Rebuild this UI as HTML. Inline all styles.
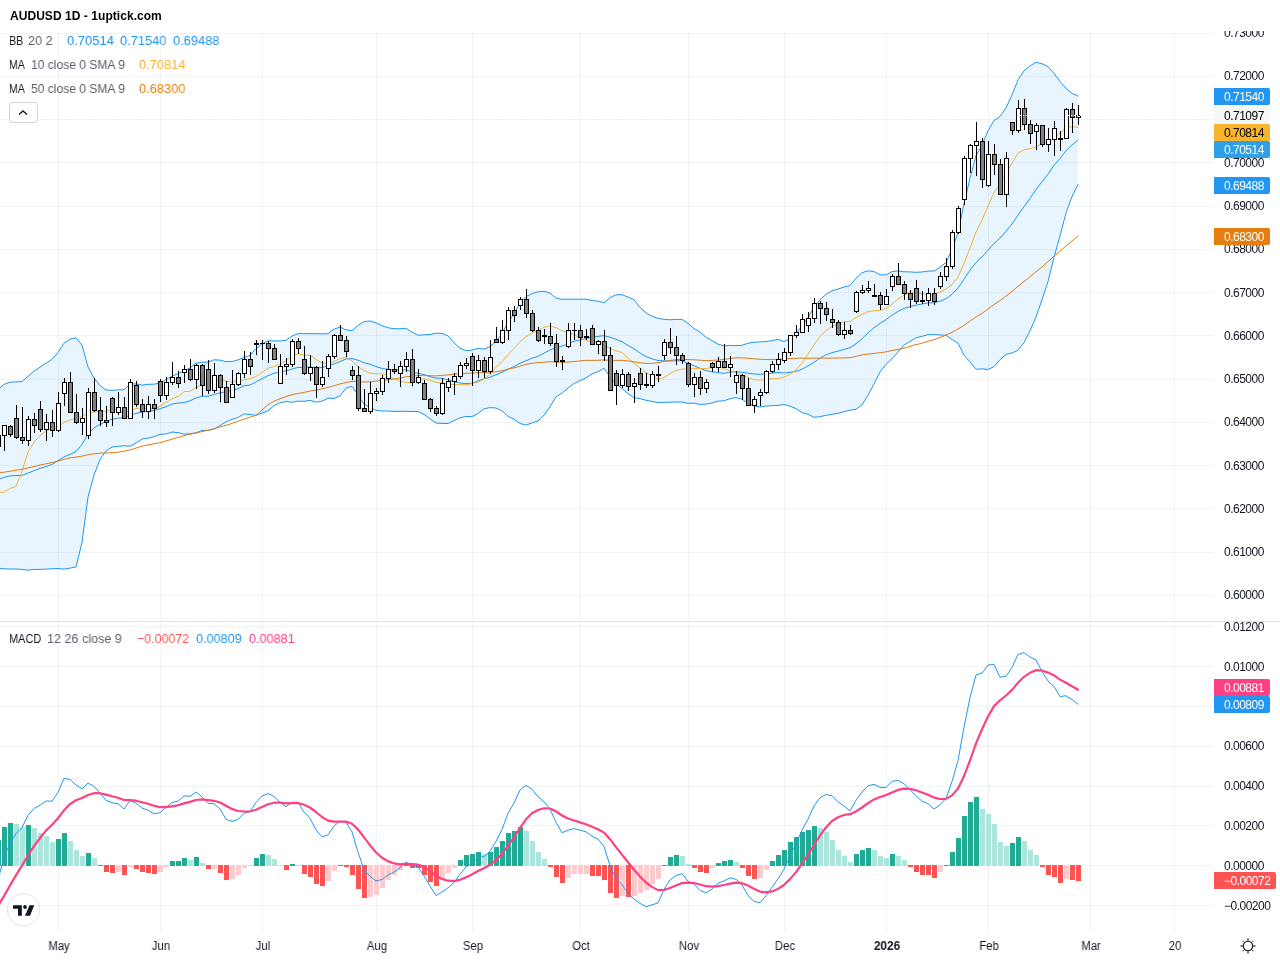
<!DOCTYPE html><html><head><meta charset="utf-8"><title>AUDUSD 1D</title><style>
html,body{margin:0;padding:0;background:#fff;}
body{width:1280px;height:960px;overflow:hidden;position:relative;font-family:"Liberation Sans",sans-serif;color:#131722;}
svg{position:absolute;left:0;top:0;}
.t{position:absolute;white-space:nowrap;}
.ax,.bd,.tm,.t,.p{will-change:transform;}
.ax{position:absolute;left:1224px;font-size:12px;line-height:14px;letter-spacing:-0.5px;color:#131722;}
.bd{position:absolute;left:1214px;width:56px;height:17px;border-radius:0 2px 2px 0;font-size:12px;line-height:19px;overflow:hidden;letter-spacing:-0.5px;color:#fff;padding-left:10px;box-sizing:border-box;}
.tm{position:absolute;top:939px;font-size:12px;line-height:14px;width:60px;text-align:center;color:#131722;}
.lg{position:absolute;left:9px;font-size:12px;line-height:16px;color:#5d606b;white-space:nowrap;}
.lg b{font-weight:normal;color:#131722;}
.p{position:absolute;font-size:13px;line-height:16px;white-space:nowrap;transform-origin:0 0;}
</style></head><body>
<svg width="1280" height="960" viewBox="0 0 1280 960">
<g shape-rendering="crispEdges" stroke="rgb(42,46,57)" stroke-opacity="0.06" stroke-width="1">
<line x1="58.5" y1="31" x2="58.5" y2="621" />
<line x1="58.5" y1="622" x2="58.5" y2="932" />
<line x1="160.5" y1="31" x2="160.5" y2="621" />
<line x1="160.5" y1="622" x2="160.5" y2="932" />
<line x1="262.5" y1="31" x2="262.5" y2="621" />
<line x1="262.5" y1="622" x2="262.5" y2="932" />
<line x1="376.5" y1="31" x2="376.5" y2="621" />
<line x1="376.5" y1="622" x2="376.5" y2="932" />
<line x1="472.5" y1="31" x2="472.5" y2="621" />
<line x1="472.5" y1="622" x2="472.5" y2="932" />
<line x1="580.5" y1="31" x2="580.5" y2="621" />
<line x1="580.5" y1="622" x2="580.5" y2="932" />
<line x1="688.5" y1="31" x2="688.5" y2="621" />
<line x1="688.5" y1="622" x2="688.5" y2="932" />
<line x1="784.5" y1="31" x2="784.5" y2="621" />
<line x1="784.5" y1="622" x2="784.5" y2="932" />
<line x1="886.5" y1="31" x2="886.5" y2="621" />
<line x1="886.5" y1="622" x2="886.5" y2="932" />
<line x1="988.5" y1="31" x2="988.5" y2="621" />
<line x1="988.5" y1="622" x2="988.5" y2="932" />
<line x1="1090.5" y1="31" x2="1090.5" y2="621" />
<line x1="1090.5" y1="622" x2="1090.5" y2="932" />
<line x1="1174.5" y1="31" x2="1174.5" y2="621" />
<line x1="1174.5" y1="622" x2="1174.5" y2="932" />
<line x1="0" y1="33.5" x2="1214" y2="33.5" />
<line x1="0" y1="76.5" x2="1214" y2="76.5" />
<line x1="0" y1="119.5" x2="1214" y2="119.5" />
<line x1="0" y1="162.5" x2="1214" y2="162.5" />
<line x1="0" y1="206.5" x2="1214" y2="206.5" />
<line x1="0" y1="249.5" x2="1214" y2="249.5" />
<line x1="0" y1="292.5" x2="1214" y2="292.5" />
<line x1="0" y1="335.5" x2="1214" y2="335.5" />
<line x1="0" y1="379.5" x2="1214" y2="379.5" />
<line x1="0" y1="422.5" x2="1214" y2="422.5" />
<line x1="0" y1="465.5" x2="1214" y2="465.5" />
<line x1="0" y1="508.5" x2="1214" y2="508.5" />
<line x1="0" y1="552.5" x2="1214" y2="552.5" />
<line x1="0" y1="595.5" x2="1214" y2="595.5" />
<line x1="0" y1="626.5" x2="1214" y2="626.5" />
<line x1="0" y1="666.5" x2="1214" y2="666.5" />
<line x1="0" y1="706.5" x2="1214" y2="706.5" />
<line x1="0" y1="746.5" x2="1214" y2="746.5" />
<line x1="0" y1="786.5" x2="1214" y2="786.5" />
<line x1="0" y1="825.5" x2="1214" y2="825.5" />
<line x1="0" y1="865.5" x2="1214" y2="865.5" />
<line x1="0" y1="905.5" x2="1214" y2="905.5" />
</g>
<rect x="0" y="621" width="1280" height="1" fill="#e0e3eb"/>
<polygon points="-2.0,389.4 4.0,384.4 10.0,382.2 16.0,381.9 22.0,381.5 28.0,376.2 34.0,371.2 40.0,367.2 46.0,363.1 52.0,359.4 58.0,352.5 64.0,343.1 70.0,339.0 76.0,337.8 82.0,345.0 88.0,366.9 94.0,378.1 100.0,385.6 106.0,390.0 112.0,390.4 118.0,389.9 124.0,389.7 130.0,384.2 136.0,383.9 142.0,385.1 148.0,384.3 154.0,384.2 160.0,383.1 166.0,379.5 172.0,376.1 178.0,373.7 184.0,370.8 190.0,367.9 196.0,363.1 202.0,362.2 208.0,362.1 214.0,359.8 220.0,360.1 226.0,361.6 232.0,361.5 238.0,359.9 244.0,357.5 250.0,355.4 256.0,348.6 262.0,343.9 268.0,340.8 274.0,340.9 280.0,340.9 286.0,340.3 292.0,336.0 298.0,333.6 304.0,333.7 310.0,333.6 316.0,333.7 322.0,333.9 328.0,333.6 334.0,329.2 340.0,327.1 346.0,329.8 352.0,330.7 358.0,325.4 364.0,321.6 370.0,320.9 376.0,322.9 382.0,325.7 388.0,327.8 394.0,328.7 400.0,328.7 406.0,328.3 412.0,332.2 418.0,335.2 424.0,334.9 430.0,334.5 436.0,333.2 442.0,333.4 448.0,335.8 454.0,342.8 460.0,348.2 466.0,350.7 472.0,350.1 478.0,348.3 484.0,349.1 490.0,346.7 496.0,341.4 502.0,333.8 508.0,322.2 514.0,313.8 520.0,302.8 526.0,296.7 532.0,293.5 538.0,291.8 544.0,291.2 550.0,293.1 556.0,298.1 562.0,299.3 568.0,299.2 574.0,299.2 580.0,299.2 586.0,299.2 592.0,300.5 598.0,301.1 604.0,302.8 610.0,297.7 616.0,294.7 622.0,294.7 628.0,297.0 634.0,299.8 640.0,307.4 646.0,312.9 652.0,316.2 658.0,318.4 664.0,319.3 670.0,319.8 676.0,319.4 682.0,319.4 688.0,323.4 694.0,328.4 700.0,332.2 706.0,337.2 712.0,340.6 718.0,344.2 724.0,345.9 730.0,345.4 736.0,345.6 742.0,345.3 748.0,343.2 754.0,342.2 760.0,341.9 766.0,341.5 772.0,340.7 778.0,339.4 784.0,341.5 790.0,338.7 796.0,334.0 802.0,325.7 808.0,317.7 814.0,307.2 820.0,299.7 826.0,294.4 832.0,290.8 838.0,289.1 844.0,287.0 850.0,285.5 856.0,278.2 862.0,272.7 868.0,270.8 874.0,271.6 880.0,274.8 886.0,274.9 892.0,271.6 898.0,270.9 904.0,271.8 910.0,271.9 916.0,272.3 922.0,272.0 928.0,271.1 934.0,271.0 940.0,267.4 946.0,262.3 952.0,249.2 958.0,232.9 964.0,203.5 970.0,178.2 976.0,155.6 982.0,145.0 988.0,130.8 994.0,120.5 1000.0,116.5 1006.0,107.9 1012.0,94.9 1018.0,79.9 1024.0,70.8 1030.0,65.9 1036.0,62.2 1042.0,63.7 1048.0,66.5 1054.0,73.5 1060.0,81.3 1066.0,88.3 1072.0,93.3 1078.0,96.0 1078.0,184.6 1072.0,196.6 1066.0,213.1 1060.0,235.8 1054.0,257.4 1048.0,281.6 1042.0,299.8 1036.0,316.9 1030.0,330.9 1024.0,342.5 1018.0,350.3 1012.0,352.9 1006.0,354.5 1000.0,359.7 994.0,366.7 988.0,369.5 982.0,368.8 976.0,369.3 970.0,361.8 964.0,355.2 958.0,343.1 952.0,339.4 946.0,335.3 940.0,334.9 934.0,334.6 928.0,334.7 922.0,336.3 916.0,337.8 910.0,341.4 904.0,345.1 898.0,352.0 892.0,358.8 886.0,364.3 880.0,371.9 874.0,383.9 868.0,395.1 862.0,404.9 856.0,409.2 850.0,410.2 844.0,411.7 838.0,413.4 832.0,414.3 826.0,415.3 820.0,416.7 814.0,417.3 808.0,414.2 802.0,412.7 796.0,408.6 790.0,406.1 784.0,404.5 778.0,405.5 772.0,405.7 766.0,406.0 760.0,407.0 754.0,405.8 748.0,403.3 742.0,399.2 736.0,397.6 730.0,398.7 724.0,400.8 718.0,401.2 712.0,403.0 706.0,404.1 700.0,404.4 694.0,403.1 688.0,403.4 682.0,402.0 676.0,402.0 670.0,402.2 664.0,402.4 658.0,402.7 652.0,401.4 646.0,400.3 640.0,398.6 634.0,397.7 628.0,393.7 622.0,388.4 616.0,384.0 610.0,376.7 604.0,368.3 598.0,371.7 592.0,374.0 586.0,377.9 580.0,380.7 574.0,383.5 568.0,388.1 562.0,393.1 556.0,396.6 550.0,406.8 544.0,415.3 538.0,421.0 532.0,423.0 526.0,425.0 520.0,423.5 514.0,419.2 508.0,416.4 502.0,410.8 496.0,408.0 490.0,407.6 484.0,408.8 478.0,413.6 472.0,416.6 466.0,416.5 460.0,417.8 454.0,420.6 448.0,423.5 442.0,423.4 436.0,423.1 430.0,418.8 424.0,414.4 418.0,411.5 412.0,411.5 406.0,411.3 400.0,411.4 394.0,411.4 388.0,411.0 382.0,411.0 376.0,410.3 370.0,407.5 364.0,404.1 358.0,395.1 352.0,386.3 346.0,388.1 340.0,395.9 334.0,398.5 328.0,398.2 322.0,401.2 316.0,402.1 310.0,400.4 304.0,401.3 298.0,401.1 292.0,402.3 286.0,401.6 280.0,402.7 274.0,405.6 268.0,410.7 262.0,413.2 256.0,415.3 250.0,414.5 244.0,414.0 238.0,417.5 232.0,419.3 226.0,422.0 220.0,425.5 214.0,429.2 208.0,430.4 202.0,430.4 196.0,432.9 190.0,433.8 184.0,434.2 178.0,432.6 172.0,432.1 166.0,434.0 160.0,434.4 154.0,436.7 148.0,438.2 142.0,439.0 136.0,443.1 130.0,446.2 124.0,445.8 118.0,446.4 112.0,447.0 106.0,451.0 100.0,459.4 94.0,475.0 88.0,497.0 82.0,542.5 76.0,567.0 70.0,568.1 64.0,569.1 58.0,568.5 52.0,568.8 46.0,569.1 40.0,569.4 34.0,569.4 28.0,570.2 22.0,569.4 16.0,569.0 10.0,569.0 4.0,568.8 -2.0,568.1" fill="#2196f3" fill-opacity="0.1"/>
<g fill="none" stroke-linejoin="round" stroke-linecap="round">
<polyline points="-2.0,479.5 4.0,477.4 10.0,475.9 16.0,475.5 22.0,475.4 28.0,473.1 34.0,470.6 40.0,468.4 46.0,466.5 52.0,464.4 58.0,460.6 64.0,456.9 70.0,454.4 76.0,451.5 82.0,444.4 88.0,434.0 94.0,427.8 100.0,424.4 106.0,421.6 112.0,419.4 118.0,418.1 124.0,417.8 130.0,415.2 136.0,413.5 142.0,412.0 148.0,411.3 154.0,410.4 160.0,408.7 166.0,406.7 172.0,404.1 178.0,403.1 184.0,402.5 190.0,400.8 196.0,398.0 202.0,396.3 208.0,396.2 214.0,394.5 220.0,392.8 226.0,391.8 232.0,390.4 238.0,388.7 244.0,385.8 250.0,385.0 256.0,381.9 262.0,378.6 268.0,375.7 274.0,373.3 280.0,371.8 286.0,370.9 292.0,369.1 298.0,367.4 304.0,367.5 310.0,367.0 316.0,367.9 322.0,367.5 328.0,365.9 334.0,363.9 340.0,361.5 346.0,359.0 352.0,358.5 358.0,360.2 364.0,362.8 370.0,364.2 376.0,366.6 382.0,368.4 388.0,369.4 394.0,370.0 400.0,370.0 406.0,369.8 412.0,371.9 418.0,373.3 424.0,374.6 430.0,376.7 436.0,378.1 442.0,378.4 448.0,379.7 454.0,381.7 460.0,383.0 466.0,383.6 472.0,383.3 478.0,380.9 484.0,378.9 490.0,377.2 496.0,374.7 502.0,372.3 508.0,369.3 514.0,366.5 520.0,363.2 526.0,360.8 532.0,358.2 538.0,356.4 544.0,353.2 550.0,350.0 556.0,347.3 562.0,346.2 568.0,343.6 574.0,341.3 580.0,339.9 586.0,338.6 592.0,337.3 598.0,336.4 604.0,335.6 610.0,337.2 616.0,339.3 622.0,341.6 628.0,345.3 634.0,348.8 640.0,353.0 646.0,356.6 652.0,358.8 658.0,360.5 664.0,360.8 670.0,361.0 676.0,360.7 682.0,360.7 688.0,363.4 694.0,365.8 700.0,368.3 706.0,370.6 712.0,371.8 718.0,372.7 724.0,373.3 730.0,372.1 736.0,371.6 742.0,372.3 748.0,373.2 754.0,374.0 760.0,374.4 766.0,373.7 772.0,373.2 778.0,372.5 784.0,373.0 790.0,372.4 796.0,371.3 802.0,369.2 808.0,365.9 814.0,362.2 820.0,358.2 826.0,354.8 832.0,352.6 838.0,351.2 844.0,349.4 850.0,347.8 856.0,343.7 862.0,338.8 868.0,332.9 874.0,327.8 880.0,323.4 886.0,319.6 892.0,315.2 898.0,311.4 904.0,308.5 910.0,306.6 916.0,305.1 922.0,304.1 928.0,302.9 934.0,302.8 940.0,301.2 946.0,298.8 952.0,294.3 958.0,288.0 964.0,279.4 970.0,270.0 976.0,262.4 982.0,256.9 988.0,250.2 994.0,243.6 1000.0,238.1 1006.0,231.2 1012.0,223.9 1018.0,215.1 1024.0,206.7 1030.0,198.4 1036.0,189.6 1042.0,181.8 1048.0,174.1 1054.0,165.4 1060.0,158.5 1066.0,150.7 1072.0,144.9 1078.0,140.3" stroke="#2196f3" stroke-width="1"/>
<polyline points="-2.0,389.4 4.0,384.4 10.0,382.2 16.0,381.9 22.0,381.5 28.0,376.2 34.0,371.2 40.0,367.2 46.0,363.1 52.0,359.4 58.0,352.5 64.0,343.1 70.0,339.0 76.0,337.8 82.0,345.0 88.0,366.9 94.0,378.1 100.0,385.6 106.0,390.0 112.0,390.4 118.0,389.9 124.0,389.7 130.0,384.2 136.0,383.9 142.0,385.1 148.0,384.3 154.0,384.2 160.0,383.1 166.0,379.5 172.0,376.1 178.0,373.7 184.0,370.8 190.0,367.9 196.0,363.1 202.0,362.2 208.0,362.1 214.0,359.8 220.0,360.1 226.0,361.6 232.0,361.5 238.0,359.9 244.0,357.5 250.0,355.4 256.0,348.6 262.0,343.9 268.0,340.8 274.0,340.9 280.0,340.9 286.0,340.3 292.0,336.0 298.0,333.6 304.0,333.7 310.0,333.6 316.0,333.7 322.0,333.9 328.0,333.6 334.0,329.2 340.0,327.1 346.0,329.8 352.0,330.7 358.0,325.4 364.0,321.6 370.0,320.9 376.0,322.9 382.0,325.7 388.0,327.8 394.0,328.7 400.0,328.7 406.0,328.3 412.0,332.2 418.0,335.2 424.0,334.9 430.0,334.5 436.0,333.2 442.0,333.4 448.0,335.8 454.0,342.8 460.0,348.2 466.0,350.7 472.0,350.1 478.0,348.3 484.0,349.1 490.0,346.7 496.0,341.4 502.0,333.8 508.0,322.2 514.0,313.8 520.0,302.8 526.0,296.7 532.0,293.5 538.0,291.8 544.0,291.2 550.0,293.1 556.0,298.1 562.0,299.3 568.0,299.2 574.0,299.2 580.0,299.2 586.0,299.2 592.0,300.5 598.0,301.1 604.0,302.8 610.0,297.7 616.0,294.7 622.0,294.7 628.0,297.0 634.0,299.8 640.0,307.4 646.0,312.9 652.0,316.2 658.0,318.4 664.0,319.3 670.0,319.8 676.0,319.4 682.0,319.4 688.0,323.4 694.0,328.4 700.0,332.2 706.0,337.2 712.0,340.6 718.0,344.2 724.0,345.9 730.0,345.4 736.0,345.6 742.0,345.3 748.0,343.2 754.0,342.2 760.0,341.9 766.0,341.5 772.0,340.7 778.0,339.4 784.0,341.5 790.0,338.7 796.0,334.0 802.0,325.7 808.0,317.7 814.0,307.2 820.0,299.7 826.0,294.4 832.0,290.8 838.0,289.1 844.0,287.0 850.0,285.5 856.0,278.2 862.0,272.7 868.0,270.8 874.0,271.6 880.0,274.8 886.0,274.9 892.0,271.6 898.0,270.9 904.0,271.8 910.0,271.9 916.0,272.3 922.0,272.0 928.0,271.1 934.0,271.0 940.0,267.4 946.0,262.3 952.0,249.2 958.0,232.9 964.0,203.5 970.0,178.2 976.0,155.6 982.0,145.0 988.0,130.8 994.0,120.5 1000.0,116.5 1006.0,107.9 1012.0,94.9 1018.0,79.9 1024.0,70.8 1030.0,65.9 1036.0,62.2 1042.0,63.7 1048.0,66.5 1054.0,73.5 1060.0,81.3 1066.0,88.3 1072.0,93.3 1078.0,96.0" stroke="#2196f3" stroke-width="1"/>
<polyline points="-2.0,568.1 4.0,568.8 10.0,569.0 16.0,569.0 22.0,569.4 28.0,570.2 34.0,569.4 40.0,569.4 46.0,569.1 52.0,568.8 58.0,568.5 64.0,569.1 70.0,568.1 76.0,567.0 82.0,542.5 88.0,497.0 94.0,475.0 100.0,459.4 106.0,451.0 112.0,447.0 118.0,446.4 124.0,445.8 130.0,446.2 136.0,443.1 142.0,439.0 148.0,438.2 154.0,436.7 160.0,434.4 166.0,434.0 172.0,432.1 178.0,432.6 184.0,434.2 190.0,433.8 196.0,432.9 202.0,430.4 208.0,430.4 214.0,429.2 220.0,425.5 226.0,422.0 232.0,419.3 238.0,417.5 244.0,414.0 250.0,414.5 256.0,415.3 262.0,413.2 268.0,410.7 274.0,405.6 280.0,402.7 286.0,401.6 292.0,402.3 298.0,401.1 304.0,401.3 310.0,400.4 316.0,402.1 322.0,401.2 328.0,398.2 334.0,398.5 340.0,395.9 346.0,388.1 352.0,386.3 358.0,395.1 364.0,404.1 370.0,407.5 376.0,410.3 382.0,411.0 388.0,411.0 394.0,411.4 400.0,411.4 406.0,411.3 412.0,411.5 418.0,411.5 424.0,414.4 430.0,418.8 436.0,423.1 442.0,423.4 448.0,423.5 454.0,420.6 460.0,417.8 466.0,416.5 472.0,416.6 478.0,413.6 484.0,408.8 490.0,407.6 496.0,408.0 502.0,410.8 508.0,416.4 514.0,419.2 520.0,423.5 526.0,425.0 532.0,423.0 538.0,421.0 544.0,415.3 550.0,406.8 556.0,396.6 562.0,393.1 568.0,388.1 574.0,383.5 580.0,380.7 586.0,377.9 592.0,374.0 598.0,371.7 604.0,368.3 610.0,376.7 616.0,384.0 622.0,388.4 628.0,393.7 634.0,397.7 640.0,398.6 646.0,400.3 652.0,401.4 658.0,402.7 664.0,402.4 670.0,402.2 676.0,402.0 682.0,402.0 688.0,403.4 694.0,403.1 700.0,404.4 706.0,404.1 712.0,403.0 718.0,401.2 724.0,400.8 730.0,398.7 736.0,397.6 742.0,399.2 748.0,403.3 754.0,405.8 760.0,407.0 766.0,406.0 772.0,405.7 778.0,405.5 784.0,404.5 790.0,406.1 796.0,408.6 802.0,412.7 808.0,414.2 814.0,417.3 820.0,416.7 826.0,415.3 832.0,414.3 838.0,413.4 844.0,411.7 850.0,410.2 856.0,409.2 862.0,404.9 868.0,395.1 874.0,383.9 880.0,371.9 886.0,364.3 892.0,358.8 898.0,352.0 904.0,345.1 910.0,341.4 916.0,337.8 922.0,336.3 928.0,334.7 934.0,334.6 940.0,334.9 946.0,335.3 952.0,339.4 958.0,343.1 964.0,355.2 970.0,361.8 976.0,369.3 982.0,368.8 988.0,369.5 994.0,366.7 1000.0,359.7 1006.0,354.5 1012.0,352.9 1018.0,350.3 1024.0,342.5 1030.0,330.9 1036.0,316.9 1042.0,299.8 1048.0,281.6 1054.0,257.4 1060.0,235.8 1066.0,213.1 1072.0,196.6 1078.0,184.6" stroke="#2196f3" stroke-width="1"/>
<polyline points="-2.0,493.0 4.0,492.0 10.0,488.5 16.0,486.4 22.0,471.2 28.0,452.2 34.0,442.2 40.0,435.6 46.0,431.1 52.0,428.3 58.0,426.5 64.0,422.2 70.0,420.0 76.0,418.4 82.0,416.2 88.0,413.5 94.0,412.1 100.0,411.2 106.0,411.2 112.0,409.4 118.0,409.8 124.0,413.4 130.0,410.4 136.0,408.6 142.0,407.8 148.0,409.0 154.0,408.8 160.0,406.3 166.0,402.3 172.0,398.9 178.0,396.5 184.0,391.6 190.0,391.3 196.0,387.4 202.0,384.8 208.0,383.4 214.0,380.1 220.0,379.3 226.0,381.3 232.0,382.0 238.0,381.0 244.0,379.9 250.0,378.6 256.0,376.5 262.0,372.3 268.0,368.1 274.0,366.5 280.0,364.4 286.0,360.6 292.0,356.3 298.0,353.8 304.0,355.1 310.0,355.3 316.0,359.4 322.0,362.8 328.0,363.6 334.0,361.3 340.0,358.6 346.0,357.3 352.0,360.7 358.0,366.7 364.0,370.5 370.0,373.1 376.0,373.8 382.0,373.9 388.0,375.2 394.0,378.8 400.0,381.4 406.0,382.3 412.0,383.0 418.0,379.9 424.0,378.7 430.0,380.2 436.0,382.4 442.0,382.9 448.0,384.1 454.0,384.6 460.0,384.5 466.0,384.9 472.0,383.7 478.0,382.0 484.0,379.2 490.0,374.1 496.0,367.0 502.0,361.7 508.0,354.6 514.0,348.4 520.0,341.8 526.0,336.8 532.0,332.8 538.0,330.8 544.0,327.3 550.0,325.8 556.0,327.7 562.0,330.7 568.0,332.7 574.0,334.3 580.0,338.0 586.0,340.4 592.0,341.8 598.0,342.0 604.0,343.9 610.0,348.6 616.0,351.0 622.0,352.4 628.0,357.9 634.0,363.3 640.0,368.0 646.0,372.8 652.0,375.8 658.0,379.1 664.0,377.8 670.0,373.5 676.0,370.5 682.0,369.1 688.0,368.9 694.0,368.3 700.0,368.7 706.0,368.4 712.0,367.7 718.0,366.4 724.0,368.9 730.0,370.6 736.0,372.6 742.0,375.4 748.0,377.5 754.0,379.7 760.0,380.2 766.0,379.0 772.0,378.7 778.0,378.6 784.0,377.1 790.0,374.2 796.0,369.9 802.0,363.0 808.0,354.3 814.0,344.7 820.0,336.3 826.0,330.6 832.0,326.4 838.0,323.9 844.0,321.7 850.0,321.5 856.0,317.4 862.0,314.5 868.0,311.6 874.0,310.8 880.0,310.4 886.0,308.6 892.0,304.0 898.0,299.0 904.0,295.2 910.0,291.8 916.0,292.7 922.0,293.7 928.0,294.2 934.0,294.8 940.0,292.0 946.0,289.0 952.0,284.6 958.0,277.0 964.0,263.5 970.0,248.1 976.0,232.2 982.0,220.0 988.0,206.1 994.0,192.4 1000.0,184.2 1006.0,173.4 1012.0,163.2 1018.0,153.2 1024.0,149.8 1030.0,148.6 1036.0,147.0 1042.0,143.5 1048.0,142.0 1054.0,138.4 1060.0,132.9 1066.0,128.0 1072.0,126.6 1078.0,127.3" stroke="#f5b331" stroke-width="1"/>
<polyline points="-2.0,472.9 4.0,472.2 10.0,471.2 16.0,470.2 22.0,469.4 28.0,467.9 34.0,466.6 40.0,465.0 46.0,463.8 52.0,462.5 58.0,461.1 64.0,459.4 70.0,457.9 76.0,457.1 82.0,456.1 88.0,454.7 94.0,453.8 100.0,453.2 106.0,453.0 112.0,452.7 118.0,452.2 124.0,451.2 130.0,449.9 136.0,448.1 142.0,446.1 148.0,444.9 154.0,443.8 160.0,442.8 166.0,440.9 172.0,439.2 178.0,437.4 184.0,435.6 190.0,434.2 196.0,432.9 202.0,431.6 208.0,430.3 214.0,428.8 220.0,426.9 226.0,425.3 232.0,423.4 238.0,421.2 244.0,419.1 250.0,417.2 256.0,415.3 262.0,410.0 268.0,404.7 274.0,401.2 280.0,398.8 286.0,396.6 292.0,394.7 298.0,393.5 304.0,392.4 310.0,391.1 316.0,390.1 322.0,388.8 328.0,387.5 334.0,385.7 340.0,384.0 346.0,382.5 352.0,381.4 358.0,381.5 364.0,382.1 370.0,381.7 376.0,381.1 382.0,380.3 388.0,379.9 394.0,379.1 400.0,378.0 406.0,376.8 412.0,376.2 418.0,375.6 424.0,375.2 430.0,375.7 436.0,375.9 442.0,375.3 448.0,374.9 454.0,374.3 460.0,373.7 466.0,373.3 472.0,373.1 478.0,372.7 484.0,372.7 490.0,372.3 496.0,371.8 502.0,370.7 508.0,369.1 514.0,367.9 520.0,366.2 526.0,364.4 532.0,363.3 538.0,362.6 544.0,362.2 550.0,361.7 556.0,362.1 562.0,362.4 568.0,362.1 574.0,361.5 580.0,360.9 586.0,360.3 592.0,360.4 598.0,360.3 604.0,359.9 610.0,360.4 616.0,360.4 622.0,360.3 628.0,360.9 634.0,361.9 640.0,362.8 646.0,363.4 652.0,363.4 658.0,362.7 664.0,361.4 670.0,360.4 676.0,359.7 682.0,359.3 688.0,359.6 694.0,359.8 700.0,360.2 706.0,360.7 712.0,360.4 718.0,360.0 724.0,359.4 730.0,358.5 736.0,357.8 742.0,357.9 748.0,358.3 754.0,358.8 760.0,359.3 766.0,359.5 772.0,359.4 778.0,359.4 784.0,359.0 790.0,358.5 796.0,358.3 802.0,358.1 808.0,358.3 814.0,358.1 820.0,358.2 826.0,358.2 832.0,358.1 838.0,358.0 844.0,357.9 850.0,357.7 856.0,356.3 862.0,354.9 868.0,354.1 874.0,353.4 880.0,352.7 886.0,351.9 892.0,350.5 898.0,349.4 904.0,348.1 910.0,346.3 916.0,344.6 922.0,343.2 928.0,341.3 934.0,339.7 940.0,337.5 946.0,335.1 952.0,332.3 958.0,329.0 964.0,325.3 970.0,321.2 976.0,317.0 982.0,313.4 988.0,308.8 994.0,304.5 1000.0,300.6 1006.0,296.1 1012.0,291.4 1018.0,286.3 1024.0,281.5 1030.0,276.8 1036.0,271.8 1042.0,267.0 1048.0,261.6 1054.0,256.2 1060.0,251.2 1066.0,245.9 1072.0,241.0 1078.0,236.1" stroke="#e07b12" stroke-width="1"/>
</g>
<g shape-rendering="crispEdges">
<rect x="-4" y="435" width="5" height="12" fill="#000"/>
<rect x="4" y="425" width="1" height="26" fill="#000"/>
<rect x="2" y="425" width="5" height="11" fill="#000"/>
<rect x="3" y="426" width="3" height="9" fill="#fff"/>
<rect x="10" y="425" width="1" height="12" fill="#000"/>
<rect x="8" y="426" width="5" height="9" fill="#000"/>
<rect x="9" y="427" width="3" height="7" fill="#808080"/>
<rect x="16" y="405" width="1" height="34" fill="#000"/>
<rect x="14" y="418" width="5" height="20" fill="#000"/>
<rect x="15" y="419" width="3" height="18" fill="#808080"/>
<rect x="22" y="407" width="1" height="37" fill="#000"/>
<rect x="20" y="437" width="5" height="4" fill="#000"/>
<rect x="21" y="438" width="3" height="2" fill="#808080"/>
<rect x="28" y="416" width="1" height="30" fill="#000"/>
<rect x="26" y="419" width="5" height="22" fill="#000"/>
<rect x="27" y="420" width="3" height="20" fill="#fff"/>
<rect x="34" y="413" width="1" height="20" fill="#000"/>
<rect x="32" y="419" width="5" height="7" fill="#000"/>
<rect x="33" y="420" width="3" height="5" fill="#808080"/>
<rect x="40" y="401" width="1" height="31" fill="#000"/>
<rect x="38" y="409" width="5" height="21" fill="#000"/>
<rect x="39" y="410" width="3" height="19" fill="#808080"/>
<rect x="46" y="414" width="1" height="27" fill="#000"/>
<rect x="44" y="422" width="5" height="8" fill="#000"/>
<rect x="45" y="423" width="3" height="6" fill="#fff"/>
<rect x="52" y="410" width="1" height="27" fill="#000"/>
<rect x="50" y="422" width="5" height="9" fill="#000"/>
<rect x="51" y="423" width="3" height="7" fill="#808080"/>
<rect x="58" y="392" width="1" height="40" fill="#000"/>
<rect x="56" y="403" width="5" height="28" fill="#000"/>
<rect x="57" y="404" width="3" height="26" fill="#fff"/>
<rect x="64" y="378" width="1" height="28" fill="#000"/>
<rect x="62" y="382" width="5" height="12" fill="#000"/>
<rect x="63" y="383" width="3" height="10" fill="#fff"/>
<rect x="70" y="372" width="1" height="41" fill="#000"/>
<rect x="68" y="382" width="5" height="31" fill="#000"/>
<rect x="69" y="383" width="3" height="29" fill="#808080"/>
<rect x="76" y="394" width="1" height="30" fill="#000"/>
<rect x="74" y="412" width="5" height="11" fill="#000"/>
<rect x="75" y="413" width="3" height="9" fill="#808080"/>
<rect x="82" y="408" width="1" height="27" fill="#000"/>
<rect x="80" y="418" width="5" height="5" fill="#000"/>
<rect x="81" y="419" width="3" height="3" fill="#fff"/>
<rect x="88" y="388" width="1" height="51" fill="#000"/>
<rect x="86" y="392" width="5" height="44" fill="#000"/>
<rect x="87" y="393" width="3" height="42" fill="#fff"/>
<rect x="94" y="378" width="1" height="34" fill="#000"/>
<rect x="92" y="392" width="5" height="19" fill="#000"/>
<rect x="93" y="393" width="3" height="17" fill="#808080"/>
<rect x="100" y="397" width="1" height="29" fill="#000"/>
<rect x="98" y="410" width="5" height="11" fill="#000"/>
<rect x="99" y="411" width="3" height="9" fill="#808080"/>
<rect x="106" y="406" width="1" height="21" fill="#000"/>
<rect x="104" y="420" width="5" height="3" fill="#000"/>
<rect x="105" y="421" width="3" height="1" fill="#808080"/>
<rect x="112" y="397" width="1" height="29" fill="#000"/>
<rect x="110" y="398" width="5" height="15" fill="#000"/>
<rect x="111" y="399" width="3" height="13" fill="#808080"/>
<rect x="118" y="392" width="1" height="23" fill="#000"/>
<rect x="116" y="407" width="5" height="6" fill="#000"/>
<rect x="117" y="408" width="3" height="4" fill="#fff"/>
<rect x="124" y="397" width="1" height="22" fill="#000"/>
<rect x="122" y="407" width="5" height="12" fill="#000"/>
<rect x="123" y="408" width="3" height="10" fill="#808080"/>
<rect x="130" y="379" width="1" height="40" fill="#000"/>
<rect x="128" y="382" width="5" height="37" fill="#000"/>
<rect x="129" y="383" width="3" height="35" fill="#fff"/>
<rect x="136" y="381" width="1" height="26" fill="#000"/>
<rect x="134" y="385" width="5" height="20" fill="#000"/>
<rect x="135" y="386" width="3" height="18" fill="#808080"/>
<rect x="142" y="399" width="1" height="19" fill="#000"/>
<rect x="140" y="404" width="5" height="8" fill="#000"/>
<rect x="141" y="405" width="3" height="6" fill="#808080"/>
<rect x="148" y="396" width="1" height="23" fill="#000"/>
<rect x="146" y="404" width="5" height="8" fill="#000"/>
<rect x="147" y="405" width="3" height="6" fill="#fff"/>
<rect x="154" y="399" width="1" height="20" fill="#000"/>
<rect x="152" y="404" width="5" height="5" fill="#000"/>
<rect x="153" y="405" width="3" height="3" fill="#808080"/>
<rect x="160" y="379" width="1" height="23" fill="#000"/>
<rect x="158" y="381" width="5" height="15" fill="#000"/>
<rect x="159" y="382" width="3" height="13" fill="#808080"/>
<rect x="166" y="377" width="1" height="23" fill="#000"/>
<rect x="164" y="382" width="5" height="14" fill="#000"/>
<rect x="165" y="383" width="3" height="12" fill="#fff"/>
<rect x="172" y="362" width="1" height="23" fill="#000"/>
<rect x="170" y="377" width="5" height="6" fill="#000"/>
<rect x="171" y="378" width="3" height="4" fill="#fff"/>
<rect x="178" y="371" width="1" height="17" fill="#000"/>
<rect x="176" y="377" width="5" height="7" fill="#000"/>
<rect x="177" y="378" width="3" height="5" fill="#808080"/>
<rect x="184" y="365" width="1" height="18" fill="#000"/>
<rect x="182" y="369" width="5" height="4" fill="#000"/>
<rect x="183" y="370" width="3" height="2" fill="#fff"/>
<rect x="190" y="359" width="1" height="22" fill="#000"/>
<rect x="188" y="369" width="5" height="11" fill="#000"/>
<rect x="189" y="370" width="3" height="9" fill="#808080"/>
<rect x="196" y="364" width="1" height="25" fill="#000"/>
<rect x="194" y="365" width="5" height="15" fill="#000"/>
<rect x="195" y="366" width="3" height="13" fill="#fff"/>
<rect x="202" y="364" width="1" height="32" fill="#000"/>
<rect x="200" y="365" width="5" height="21" fill="#000"/>
<rect x="201" y="366" width="3" height="19" fill="#808080"/>
<rect x="208" y="360" width="1" height="34" fill="#000"/>
<rect x="206" y="369" width="5" height="22" fill="#000"/>
<rect x="207" y="370" width="3" height="20" fill="#808080"/>
<rect x="214" y="363" width="1" height="30" fill="#000"/>
<rect x="212" y="375" width="5" height="16" fill="#000"/>
<rect x="213" y="376" width="3" height="14" fill="#fff"/>
<rect x="220" y="374" width="1" height="28" fill="#000"/>
<rect x="218" y="375" width="5" height="13" fill="#000"/>
<rect x="219" y="376" width="3" height="11" fill="#808080"/>
<rect x="226" y="381" width="1" height="22" fill="#000"/>
<rect x="224" y="387" width="5" height="16" fill="#000"/>
<rect x="225" y="388" width="3" height="14" fill="#808080"/>
<rect x="232" y="370" width="1" height="28" fill="#000"/>
<rect x="230" y="384" width="5" height="14" fill="#000"/>
<rect x="231" y="385" width="3" height="12" fill="#fff"/>
<rect x="238" y="372" width="1" height="14" fill="#000"/>
<rect x="236" y="373" width="5" height="12" fill="#000"/>
<rect x="237" y="374" width="3" height="10" fill="#fff"/>
<rect x="244" y="351" width="1" height="27" fill="#000"/>
<rect x="242" y="359" width="5" height="15" fill="#000"/>
<rect x="243" y="360" width="3" height="13" fill="#fff"/>
<rect x="250" y="352" width="1" height="23" fill="#000"/>
<rect x="248" y="359" width="5" height="8" fill="#000"/>
<rect x="249" y="360" width="3" height="6" fill="#808080"/>
<rect x="256" y="340" width="1" height="15" fill="#000"/>
<rect x="254" y="343" width="5" height="2" fill="#000"/>
<rect x="262" y="340" width="1" height="20" fill="#000"/>
<rect x="260" y="343" width="5" height="1" fill="#000"/>
<rect x="268" y="341" width="1" height="22" fill="#000"/>
<rect x="266" y="343" width="5" height="6" fill="#000"/>
<rect x="267" y="344" width="3" height="4" fill="#808080"/>
<rect x="274" y="344" width="1" height="16" fill="#000"/>
<rect x="272" y="348" width="5" height="12" fill="#000"/>
<rect x="273" y="349" width="3" height="10" fill="#808080"/>
<rect x="280" y="354" width="1" height="30" fill="#000"/>
<rect x="278" y="366" width="5" height="18" fill="#000"/>
<rect x="279" y="367" width="3" height="16" fill="#fff"/>
<rect x="286" y="358" width="1" height="17" fill="#000"/>
<rect x="284" y="364" width="5" height="3" fill="#000"/>
<rect x="285" y="365" width="3" height="1" fill="#fff"/>
<rect x="292" y="339" width="1" height="28" fill="#000"/>
<rect x="290" y="341" width="5" height="24" fill="#000"/>
<rect x="291" y="342" width="3" height="22" fill="#fff"/>
<rect x="298" y="338" width="1" height="16" fill="#000"/>
<rect x="296" y="341" width="5" height="8" fill="#000"/>
<rect x="297" y="342" width="3" height="6" fill="#808080"/>
<rect x="304" y="346" width="1" height="29" fill="#000"/>
<rect x="302" y="359" width="5" height="15" fill="#000"/>
<rect x="303" y="360" width="3" height="13" fill="#808080"/>
<rect x="310" y="355" width="1" height="26" fill="#000"/>
<rect x="308" y="367" width="5" height="7" fill="#000"/>
<rect x="309" y="368" width="3" height="5" fill="#fff"/>
<rect x="316" y="366" width="1" height="32" fill="#000"/>
<rect x="314" y="367" width="5" height="18" fill="#000"/>
<rect x="315" y="368" width="3" height="16" fill="#808080"/>
<rect x="322" y="361" width="1" height="26" fill="#000"/>
<rect x="320" y="377" width="5" height="8" fill="#000"/>
<rect x="321" y="378" width="3" height="6" fill="#fff"/>
<rect x="328" y="354" width="1" height="23" fill="#000"/>
<rect x="326" y="356" width="5" height="13" fill="#000"/>
<rect x="327" y="357" width="3" height="11" fill="#fff"/>
<rect x="334" y="334" width="1" height="25" fill="#000"/>
<rect x="332" y="335" width="5" height="22" fill="#000"/>
<rect x="333" y="336" width="3" height="20" fill="#fff"/>
<rect x="340" y="325" width="1" height="16" fill="#000"/>
<rect x="338" y="335" width="5" height="6" fill="#000"/>
<rect x="339" y="336" width="3" height="4" fill="#808080"/>
<rect x="346" y="336" width="1" height="21" fill="#000"/>
<rect x="344" y="340" width="5" height="12" fill="#000"/>
<rect x="345" y="341" width="3" height="10" fill="#808080"/>
<rect x="352" y="366" width="1" height="14" fill="#000"/>
<rect x="350" y="370" width="5" height="6" fill="#000"/>
<rect x="351" y="371" width="3" height="4" fill="#808080"/>
<rect x="358" y="366" width="1" height="45" fill="#000"/>
<rect x="356" y="375" width="5" height="34" fill="#000"/>
<rect x="357" y="376" width="3" height="32" fill="#808080"/>
<rect x="364" y="389" width="1" height="23" fill="#000"/>
<rect x="362" y="408" width="5" height="4" fill="#000"/>
<rect x="363" y="409" width="3" height="2" fill="#808080"/>
<rect x="370" y="382" width="1" height="32" fill="#000"/>
<rect x="368" y="393" width="5" height="19" fill="#000"/>
<rect x="369" y="394" width="3" height="17" fill="#fff"/>
<rect x="376" y="388" width="1" height="13" fill="#000"/>
<rect x="374" y="391" width="5" height="3" fill="#000"/>
<rect x="375" y="392" width="3" height="1" fill="#fff"/>
<rect x="382" y="375" width="1" height="20" fill="#000"/>
<rect x="380" y="378" width="5" height="14" fill="#000"/>
<rect x="381" y="379" width="3" height="12" fill="#fff"/>
<rect x="388" y="361" width="1" height="22" fill="#000"/>
<rect x="386" y="369" width="5" height="10" fill="#000"/>
<rect x="387" y="370" width="3" height="8" fill="#fff"/>
<rect x="394" y="364" width="1" height="10" fill="#000"/>
<rect x="392" y="369" width="5" height="3" fill="#000"/>
<rect x="393" y="370" width="3" height="1" fill="#808080"/>
<rect x="400" y="361" width="1" height="26" fill="#000"/>
<rect x="398" y="366" width="5" height="8" fill="#000"/>
<rect x="399" y="367" width="3" height="6" fill="#fff"/>
<rect x="406" y="352" width="1" height="20" fill="#000"/>
<rect x="404" y="359" width="5" height="8" fill="#000"/>
<rect x="405" y="360" width="3" height="6" fill="#fff"/>
<rect x="412" y="349" width="1" height="37" fill="#000"/>
<rect x="410" y="359" width="5" height="24" fill="#000"/>
<rect x="411" y="360" width="3" height="22" fill="#808080"/>
<rect x="418" y="369" width="1" height="15" fill="#000"/>
<rect x="416" y="377" width="5" height="6" fill="#000"/>
<rect x="417" y="378" width="3" height="4" fill="#fff"/>
<rect x="424" y="380" width="1" height="20" fill="#000"/>
<rect x="422" y="383" width="5" height="17" fill="#000"/>
<rect x="423" y="384" width="3" height="15" fill="#808080"/>
<rect x="430" y="398" width="1" height="14" fill="#000"/>
<rect x="428" y="399" width="5" height="10" fill="#000"/>
<rect x="429" y="400" width="3" height="8" fill="#808080"/>
<rect x="436" y="406" width="1" height="10" fill="#000"/>
<rect x="434" y="408" width="5" height="6" fill="#000"/>
<rect x="435" y="409" width="3" height="4" fill="#808080"/>
<rect x="442" y="378" width="1" height="37" fill="#000"/>
<rect x="440" y="383" width="5" height="31" fill="#000"/>
<rect x="441" y="384" width="3" height="29" fill="#fff"/>
<rect x="448" y="378" width="1" height="14" fill="#000"/>
<rect x="446" y="381" width="5" height="7" fill="#000"/>
<rect x="447" y="382" width="3" height="5" fill="#fff"/>
<rect x="454" y="373" width="1" height="22" fill="#000"/>
<rect x="452" y="376" width="5" height="6" fill="#000"/>
<rect x="453" y="377" width="3" height="4" fill="#fff"/>
<rect x="460" y="362" width="1" height="17" fill="#000"/>
<rect x="458" y="365" width="5" height="12" fill="#000"/>
<rect x="459" y="366" width="3" height="10" fill="#fff"/>
<rect x="466" y="358" width="1" height="11" fill="#000"/>
<rect x="464" y="363" width="5" height="3" fill="#000"/>
<rect x="465" y="364" width="3" height="1" fill="#fff"/>
<rect x="472" y="353" width="1" height="33" fill="#000"/>
<rect x="470" y="356" width="5" height="15" fill="#000"/>
<rect x="471" y="357" width="3" height="13" fill="#808080"/>
<rect x="478" y="355" width="1" height="23" fill="#000"/>
<rect x="476" y="360" width="5" height="11" fill="#000"/>
<rect x="477" y="361" width="3" height="9" fill="#fff"/>
<rect x="484" y="357" width="1" height="21" fill="#000"/>
<rect x="482" y="360" width="5" height="12" fill="#000"/>
<rect x="483" y="361" width="3" height="10" fill="#808080"/>
<rect x="490" y="340" width="1" height="34" fill="#000"/>
<rect x="488" y="357" width="5" height="15" fill="#000"/>
<rect x="489" y="358" width="3" height="13" fill="#fff"/>
<rect x="496" y="327" width="1" height="16" fill="#000"/>
<rect x="494" y="339" width="5" height="4" fill="#000"/>
<rect x="495" y="340" width="3" height="2" fill="#808080"/>
<rect x="502" y="320" width="1" height="24" fill="#000"/>
<rect x="500" y="330" width="5" height="13" fill="#000"/>
<rect x="501" y="331" width="3" height="11" fill="#fff"/>
<rect x="508" y="307" width="1" height="33" fill="#000"/>
<rect x="506" y="310" width="5" height="21" fill="#000"/>
<rect x="507" y="311" width="3" height="19" fill="#fff"/>
<rect x="514" y="306" width="1" height="16" fill="#000"/>
<rect x="512" y="310" width="5" height="6" fill="#000"/>
<rect x="513" y="311" width="3" height="4" fill="#808080"/>
<rect x="520" y="297" width="1" height="13" fill="#000"/>
<rect x="518" y="299" width="5" height="7" fill="#000"/>
<rect x="519" y="300" width="3" height="5" fill="#fff"/>
<rect x="526" y="289" width="1" height="29" fill="#000"/>
<rect x="524" y="299" width="5" height="15" fill="#000"/>
<rect x="525" y="300" width="3" height="13" fill="#808080"/>
<rect x="532" y="310" width="1" height="22" fill="#000"/>
<rect x="530" y="313" width="5" height="18" fill="#000"/>
<rect x="531" y="314" width="3" height="16" fill="#808080"/>
<rect x="538" y="327" width="1" height="15" fill="#000"/>
<rect x="536" y="330" width="5" height="11" fill="#000"/>
<rect x="537" y="331" width="3" height="9" fill="#808080"/>
<rect x="544" y="329" width="1" height="15" fill="#000"/>
<rect x="542" y="335" width="5" height="2" fill="#000"/>
<rect x="550" y="323" width="1" height="23" fill="#000"/>
<rect x="548" y="336" width="5" height="8" fill="#000"/>
<rect x="549" y="337" width="3" height="6" fill="#808080"/>
<rect x="556" y="334" width="1" height="33" fill="#000"/>
<rect x="554" y="343" width="5" height="19" fill="#000"/>
<rect x="555" y="344" width="3" height="17" fill="#808080"/>
<rect x="562" y="356" width="1" height="14" fill="#000"/>
<rect x="560" y="360" width="5" height="2" fill="#000"/>
<rect x="568" y="323" width="1" height="25" fill="#000"/>
<rect x="566" y="330" width="5" height="17" fill="#000"/>
<rect x="567" y="331" width="3" height="15" fill="#fff"/>
<rect x="574" y="323" width="1" height="17" fill="#000"/>
<rect x="572" y="330" width="5" height="1" fill="#000"/>
<rect x="580" y="325" width="1" height="21" fill="#000"/>
<rect x="578" y="330" width="5" height="8" fill="#000"/>
<rect x="579" y="331" width="3" height="6" fill="#808080"/>
<rect x="586" y="329" width="1" height="11" fill="#000"/>
<rect x="584" y="336" width="5" height="2" fill="#000"/>
<rect x="592" y="325" width="1" height="20" fill="#000"/>
<rect x="590" y="328" width="5" height="17" fill="#000"/>
<rect x="591" y="329" width="3" height="15" fill="#808080"/>
<rect x="598" y="340" width="1" height="14" fill="#000"/>
<rect x="596" y="341" width="5" height="4" fill="#000"/>
<rect x="597" y="342" width="3" height="2" fill="#fff"/>
<rect x="604" y="330" width="1" height="31" fill="#000"/>
<rect x="602" y="341" width="5" height="15" fill="#000"/>
<rect x="603" y="342" width="3" height="13" fill="#808080"/>
<rect x="610" y="347" width="1" height="44" fill="#000"/>
<rect x="608" y="355" width="5" height="36" fill="#000"/>
<rect x="609" y="356" width="3" height="34" fill="#808080"/>
<rect x="616" y="370" width="1" height="35" fill="#000"/>
<rect x="614" y="373" width="5" height="13" fill="#000"/>
<rect x="615" y="374" width="3" height="11" fill="#808080"/>
<rect x="622" y="369" width="1" height="19" fill="#000"/>
<rect x="620" y="374" width="5" height="12" fill="#000"/>
<rect x="621" y="375" width="3" height="10" fill="#fff"/>
<rect x="628" y="372" width="1" height="19" fill="#000"/>
<rect x="626" y="374" width="5" height="13" fill="#000"/>
<rect x="627" y="375" width="3" height="11" fill="#808080"/>
<rect x="634" y="378" width="1" height="25" fill="#000"/>
<rect x="632" y="383" width="5" height="4" fill="#000"/>
<rect x="633" y="384" width="3" height="2" fill="#fff"/>
<rect x="640" y="368" width="1" height="22" fill="#000"/>
<rect x="638" y="373" width="5" height="12" fill="#000"/>
<rect x="639" y="374" width="3" height="10" fill="#808080"/>
<rect x="646" y="373" width="1" height="15" fill="#000"/>
<rect x="644" y="384" width="5" height="2" fill="#000"/>
<rect x="652" y="371" width="1" height="17" fill="#000"/>
<rect x="650" y="374" width="5" height="12" fill="#000"/>
<rect x="651" y="375" width="3" height="10" fill="#fff"/>
<rect x="658" y="366" width="1" height="16" fill="#000"/>
<rect x="656" y="374" width="5" height="2" fill="#000"/>
<rect x="664" y="339" width="1" height="21" fill="#000"/>
<rect x="662" y="342" width="5" height="14" fill="#000"/>
<rect x="663" y="343" width="3" height="12" fill="#fff"/>
<rect x="670" y="328" width="1" height="26" fill="#000"/>
<rect x="668" y="342" width="5" height="6" fill="#000"/>
<rect x="669" y="343" width="3" height="4" fill="#808080"/>
<rect x="676" y="336" width="1" height="29" fill="#000"/>
<rect x="674" y="347" width="5" height="9" fill="#000"/>
<rect x="675" y="348" width="3" height="7" fill="#808080"/>
<rect x="682" y="353" width="1" height="11" fill="#000"/>
<rect x="680" y="355" width="5" height="6" fill="#000"/>
<rect x="681" y="356" width="3" height="4" fill="#808080"/>
<rect x="688" y="362" width="1" height="25" fill="#000"/>
<rect x="686" y="363" width="5" height="22" fill="#000"/>
<rect x="687" y="364" width="3" height="20" fill="#808080"/>
<rect x="694" y="373" width="1" height="24" fill="#000"/>
<rect x="692" y="377" width="5" height="8" fill="#000"/>
<rect x="693" y="378" width="3" height="6" fill="#fff"/>
<rect x="700" y="371" width="1" height="24" fill="#000"/>
<rect x="698" y="377" width="5" height="12" fill="#000"/>
<rect x="699" y="378" width="3" height="10" fill="#808080"/>
<rect x="706" y="379" width="1" height="14" fill="#000"/>
<rect x="704" y="382" width="5" height="7" fill="#000"/>
<rect x="705" y="383" width="3" height="5" fill="#fff"/>
<rect x="712" y="362" width="1" height="10" fill="#000"/>
<rect x="710" y="363" width="5" height="5" fill="#000"/>
<rect x="711" y="364" width="3" height="3" fill="#808080"/>
<rect x="718" y="357" width="1" height="15" fill="#000"/>
<rect x="716" y="361" width="5" height="7" fill="#000"/>
<rect x="717" y="362" width="3" height="5" fill="#fff"/>
<rect x="724" y="344" width="1" height="24" fill="#000"/>
<rect x="722" y="361" width="5" height="7" fill="#000"/>
<rect x="723" y="362" width="3" height="5" fill="#808080"/>
<rect x="730" y="356" width="1" height="21" fill="#000"/>
<rect x="728" y="364" width="5" height="4" fill="#000"/>
<rect x="729" y="365" width="3" height="2" fill="#fff"/>
<rect x="736" y="371" width="1" height="23" fill="#000"/>
<rect x="734" y="375" width="5" height="8" fill="#000"/>
<rect x="735" y="376" width="3" height="6" fill="#fff"/>
<rect x="742" y="374" width="1" height="26" fill="#000"/>
<rect x="740" y="375" width="5" height="14" fill="#000"/>
<rect x="741" y="376" width="3" height="12" fill="#808080"/>
<rect x="748" y="378" width="1" height="28" fill="#000"/>
<rect x="746" y="388" width="5" height="18" fill="#000"/>
<rect x="747" y="389" width="3" height="16" fill="#808080"/>
<rect x="754" y="396" width="1" height="17" fill="#000"/>
<rect x="752" y="399" width="5" height="7" fill="#000"/>
<rect x="753" y="400" width="3" height="5" fill="#fff"/>
<rect x="760" y="389" width="1" height="17" fill="#000"/>
<rect x="758" y="392" width="5" height="4" fill="#000"/>
<rect x="759" y="393" width="3" height="2" fill="#fff"/>
<rect x="766" y="370" width="1" height="24" fill="#000"/>
<rect x="764" y="371" width="5" height="22" fill="#000"/>
<rect x="765" y="372" width="3" height="20" fill="#fff"/>
<rect x="772" y="361" width="1" height="12" fill="#000"/>
<rect x="770" y="364" width="5" height="8" fill="#000"/>
<rect x="771" y="365" width="3" height="6" fill="#fff"/>
<rect x="778" y="353" width="1" height="17" fill="#000"/>
<rect x="776" y="359" width="5" height="6" fill="#000"/>
<rect x="777" y="360" width="3" height="4" fill="#fff"/>
<rect x="784" y="348" width="1" height="15" fill="#000"/>
<rect x="782" y="352" width="5" height="9" fill="#000"/>
<rect x="783" y="353" width="3" height="7" fill="#fff"/>
<rect x="790" y="335" width="1" height="21" fill="#000"/>
<rect x="788" y="335" width="5" height="18" fill="#000"/>
<rect x="789" y="336" width="3" height="16" fill="#fff"/>
<rect x="796" y="325" width="1" height="13" fill="#000"/>
<rect x="794" y="332" width="5" height="4" fill="#000"/>
<rect x="795" y="333" width="3" height="2" fill="#fff"/>
<rect x="802" y="314" width="1" height="19" fill="#000"/>
<rect x="800" y="319" width="5" height="14" fill="#000"/>
<rect x="801" y="320" width="3" height="12" fill="#fff"/>
<rect x="808" y="312" width="1" height="20" fill="#000"/>
<rect x="806" y="318" width="5" height="8" fill="#000"/>
<rect x="807" y="319" width="3" height="6" fill="#fff"/>
<rect x="814" y="298" width="1" height="25" fill="#000"/>
<rect x="812" y="303" width="5" height="16" fill="#000"/>
<rect x="813" y="304" width="3" height="14" fill="#fff"/>
<rect x="820" y="301" width="1" height="23" fill="#000"/>
<rect x="818" y="303" width="5" height="6" fill="#000"/>
<rect x="819" y="304" width="3" height="4" fill="#808080"/>
<rect x="826" y="302" width="1" height="19" fill="#000"/>
<rect x="824" y="308" width="5" height="7" fill="#000"/>
<rect x="825" y="309" width="3" height="5" fill="#808080"/>
<rect x="832" y="309" width="1" height="19" fill="#000"/>
<rect x="830" y="319" width="5" height="4" fill="#000"/>
<rect x="831" y="320" width="3" height="2" fill="#808080"/>
<rect x="838" y="320" width="1" height="16" fill="#000"/>
<rect x="836" y="322" width="5" height="13" fill="#000"/>
<rect x="837" y="323" width="3" height="11" fill="#808080"/>
<rect x="844" y="322" width="1" height="17" fill="#000"/>
<rect x="842" y="330" width="5" height="5" fill="#000"/>
<rect x="843" y="331" width="3" height="3" fill="#fff"/>
<rect x="850" y="325" width="1" height="10" fill="#000"/>
<rect x="848" y="330" width="5" height="4" fill="#000"/>
<rect x="849" y="331" width="3" height="2" fill="#808080"/>
<rect x="856" y="291" width="1" height="22" fill="#000"/>
<rect x="854" y="292" width="5" height="20" fill="#000"/>
<rect x="855" y="293" width="3" height="18" fill="#fff"/>
<rect x="862" y="285" width="1" height="9" fill="#000"/>
<rect x="860" y="290" width="5" height="3" fill="#000"/>
<rect x="861" y="291" width="3" height="1" fill="#fff"/>
<rect x="868" y="281" width="1" height="12" fill="#000"/>
<rect x="866" y="288" width="5" height="3" fill="#000"/>
<rect x="867" y="289" width="3" height="1" fill="#fff"/>
<rect x="874" y="284" width="1" height="13" fill="#000"/>
<rect x="872" y="295" width="5" height="2" fill="#000"/>
<rect x="880" y="292" width="1" height="18" fill="#000"/>
<rect x="878" y="295" width="5" height="10" fill="#000"/>
<rect x="879" y="296" width="3" height="8" fill="#808080"/>
<rect x="886" y="289" width="1" height="16" fill="#000"/>
<rect x="884" y="296" width="5" height="9" fill="#000"/>
<rect x="885" y="297" width="3" height="7" fill="#fff"/>
<rect x="892" y="274" width="1" height="17" fill="#000"/>
<rect x="890" y="276" width="5" height="11" fill="#000"/>
<rect x="891" y="277" width="3" height="9" fill="#fff"/>
<rect x="898" y="263" width="1" height="22" fill="#000"/>
<rect x="896" y="276" width="5" height="9" fill="#000"/>
<rect x="897" y="277" width="3" height="7" fill="#808080"/>
<rect x="904" y="281" width="1" height="19" fill="#000"/>
<rect x="902" y="284" width="5" height="10" fill="#000"/>
<rect x="903" y="285" width="3" height="8" fill="#808080"/>
<rect x="910" y="290" width="1" height="18" fill="#000"/>
<rect x="908" y="293" width="5" height="7" fill="#000"/>
<rect x="909" y="294" width="3" height="5" fill="#808080"/>
<rect x="916" y="280" width="1" height="24" fill="#000"/>
<rect x="914" y="288" width="5" height="14" fill="#000"/>
<rect x="915" y="289" width="3" height="12" fill="#808080"/>
<rect x="922" y="291" width="1" height="13" fill="#000"/>
<rect x="920" y="300" width="5" height="2" fill="#000"/>
<rect x="928" y="288" width="1" height="18" fill="#000"/>
<rect x="926" y="293" width="5" height="8" fill="#000"/>
<rect x="927" y="294" width="3" height="6" fill="#fff"/>
<rect x="934" y="288" width="1" height="17" fill="#000"/>
<rect x="932" y="293" width="5" height="9" fill="#000"/>
<rect x="933" y="294" width="3" height="7" fill="#808080"/>
<rect x="940" y="272" width="1" height="17" fill="#000"/>
<rect x="938" y="276" width="5" height="11" fill="#000"/>
<rect x="939" y="277" width="3" height="9" fill="#fff"/>
<rect x="946" y="258" width="1" height="23" fill="#000"/>
<rect x="944" y="266" width="5" height="11" fill="#000"/>
<rect x="945" y="267" width="3" height="9" fill="#fff"/>
<rect x="952" y="230" width="1" height="39" fill="#000"/>
<rect x="950" y="232" width="5" height="35" fill="#000"/>
<rect x="951" y="233" width="3" height="33" fill="#fff"/>
<rect x="958" y="206" width="1" height="28" fill="#000"/>
<rect x="956" y="208" width="5" height="25" fill="#000"/>
<rect x="957" y="209" width="3" height="23" fill="#fff"/>
<rect x="964" y="156" width="1" height="49" fill="#000"/>
<rect x="962" y="158" width="5" height="42" fill="#000"/>
<rect x="963" y="159" width="3" height="40" fill="#fff"/>
<rect x="970" y="144" width="1" height="29" fill="#000"/>
<rect x="968" y="145" width="5" height="14" fill="#000"/>
<rect x="969" y="146" width="3" height="12" fill="#fff"/>
<rect x="976" y="122" width="1" height="54" fill="#000"/>
<rect x="974" y="141" width="5" height="5" fill="#000"/>
<rect x="975" y="142" width="3" height="3" fill="#fff"/>
<rect x="982" y="138" width="1" height="50" fill="#000"/>
<rect x="980" y="141" width="5" height="39" fill="#000"/>
<rect x="981" y="142" width="3" height="37" fill="#808080"/>
<rect x="988" y="141" width="1" height="46" fill="#000"/>
<rect x="986" y="154" width="5" height="32" fill="#000"/>
<rect x="987" y="155" width="3" height="30" fill="#fff"/>
<rect x="994" y="144" width="1" height="31" fill="#000"/>
<rect x="992" y="154" width="5" height="11" fill="#000"/>
<rect x="993" y="155" width="3" height="9" fill="#808080"/>
<rect x="1000" y="159" width="1" height="36" fill="#000"/>
<rect x="998" y="164" width="5" height="31" fill="#000"/>
<rect x="999" y="165" width="3" height="29" fill="#808080"/>
<rect x="1006" y="152" width="1" height="55" fill="#000"/>
<rect x="1004" y="158" width="5" height="37" fill="#000"/>
<rect x="1005" y="159" width="3" height="35" fill="#fff"/>
<rect x="1012" y="122" width="1" height="13" fill="#000"/>
<rect x="1010" y="122" width="5" height="9" fill="#000"/>
<rect x="1011" y="123" width="3" height="7" fill="#808080"/>
<rect x="1018" y="100" width="1" height="33" fill="#000"/>
<rect x="1016" y="108" width="5" height="23" fill="#000"/>
<rect x="1017" y="109" width="3" height="21" fill="#fff"/>
<rect x="1024" y="99" width="1" height="31" fill="#000"/>
<rect x="1022" y="108" width="5" height="17" fill="#000"/>
<rect x="1023" y="109" width="3" height="15" fill="#808080"/>
<rect x="1030" y="120" width="1" height="24" fill="#000"/>
<rect x="1028" y="124" width="5" height="10" fill="#000"/>
<rect x="1029" y="125" width="3" height="8" fill="#808080"/>
<rect x="1036" y="123" width="1" height="27" fill="#000"/>
<rect x="1034" y="125" width="5" height="7" fill="#000"/>
<rect x="1035" y="126" width="3" height="5" fill="#fff"/>
<rect x="1042" y="125" width="1" height="22" fill="#000"/>
<rect x="1040" y="125" width="5" height="20" fill="#000"/>
<rect x="1041" y="126" width="3" height="18" fill="#808080"/>
<rect x="1048" y="128" width="1" height="24" fill="#000"/>
<rect x="1046" y="139" width="5" height="6" fill="#000"/>
<rect x="1047" y="140" width="3" height="4" fill="#fff"/>
<rect x="1054" y="121" width="1" height="35" fill="#000"/>
<rect x="1052" y="128" width="5" height="12" fill="#000"/>
<rect x="1053" y="129" width="3" height="10" fill="#fff"/>
<rect x="1060" y="131" width="1" height="20" fill="#000"/>
<rect x="1058" y="138" width="5" height="2" fill="#000"/>
<rect x="1066" y="108" width="1" height="31" fill="#000"/>
<rect x="1064" y="109" width="5" height="30" fill="#000"/>
<rect x="1065" y="110" width="3" height="28" fill="#fff"/>
<rect x="1072" y="103" width="1" height="30" fill="#000"/>
<rect x="1070" y="109" width="5" height="9" fill="#000"/>
<rect x="1071" y="110" width="3" height="7" fill="#808080"/>
<rect x="1078" y="105" width="1" height="20" fill="#000"/>
<rect x="1076" y="115" width="5" height="3" fill="#000"/>
<rect x="1077" y="116" width="3" height="1" fill="#fff"/>
</g>
<g shape-rendering="crispEdges">
<rect x="-4" y="840" width="5" height="26" fill="#22ab94"/>
<rect x="2" y="827" width="5" height="39" fill="#22ab94"/>
<rect x="8" y="823" width="5" height="43" fill="#22ab94"/>
<rect x="14" y="824" width="5" height="42" fill="#ace5dc"/>
<rect x="20" y="827" width="5" height="39" fill="#ace5dc"/>
<rect x="26" y="825" width="5" height="41" fill="#22ab94"/>
<rect x="32" y="828" width="5" height="38" fill="#ace5dc"/>
<rect x="38" y="833" width="5" height="33" fill="#ace5dc"/>
<rect x="44" y="836" width="5" height="30" fill="#ace5dc"/>
<rect x="50" y="842" width="5" height="24" fill="#ace5dc"/>
<rect x="56" y="839" width="5" height="27" fill="#22ab94"/>
<rect x="62" y="833" width="5" height="33" fill="#22ab94"/>
<rect x="68" y="841" width="5" height="25" fill="#ace5dc"/>
<rect x="74" y="850" width="5" height="16" fill="#ace5dc"/>
<rect x="80" y="856" width="5" height="10" fill="#ace5dc"/>
<rect x="86" y="853" width="5" height="13" fill="#22ab94"/>
<rect x="92" y="858" width="5" height="8" fill="#ace5dc"/>
<rect x="98" y="865" width="5" height="1" fill="#ff5252"/>
<rect x="104" y="865" width="5" height="7" fill="#ff5252"/>
<rect x="110" y="865" width="5" height="8" fill="#ff5252"/>
<rect x="116" y="865" width="5" height="7" fill="#fccbcd"/>
<rect x="122" y="865" width="5" height="10" fill="#ff5252"/>
<rect x="128" y="865" width="5" height="2" fill="#fccbcd"/>
<rect x="134" y="865" width="5" height="4" fill="#ff5252"/>
<rect x="140" y="865" width="5" height="7" fill="#ff5252"/>
<rect x="146" y="865" width="5" height="8" fill="#ff5252"/>
<rect x="152" y="865" width="5" height="9" fill="#ff5252"/>
<rect x="158" y="865" width="5" height="7" fill="#fccbcd"/>
<rect x="164" y="865" width="5" height="2" fill="#fccbcd"/>
<rect x="170" y="861" width="5" height="5" fill="#22ab94"/>
<rect x="176" y="861" width="5" height="5" fill="#22ab94"/>
<rect x="182" y="858" width="5" height="8" fill="#22ab94"/>
<rect x="188" y="860" width="5" height="6" fill="#ace5dc"/>
<rect x="194" y="857" width="5" height="9" fill="#22ab94"/>
<rect x="200" y="863" width="5" height="3" fill="#ace5dc"/>
<rect x="206" y="865" width="5" height="4" fill="#ff5252"/>
<rect x="212" y="865" width="5" height="4" fill="#fccbcd"/>
<rect x="218" y="865" width="5" height="8" fill="#ff5252"/>
<rect x="224" y="865" width="5" height="15" fill="#ff5252"/>
<rect x="230" y="865" width="5" height="14" fill="#fccbcd"/>
<rect x="236" y="865" width="5" height="10" fill="#fccbcd"/>
<rect x="242" y="865" width="5" height="3" fill="#fccbcd"/>
<rect x="248" y="865" width="5" height="1" fill="#fccbcd"/>
<rect x="254" y="858" width="5" height="8" fill="#22ab94"/>
<rect x="260" y="854" width="5" height="12" fill="#22ab94"/>
<rect x="266" y="855" width="5" height="11" fill="#ace5dc"/>
<rect x="272" y="859" width="5" height="7" fill="#ace5dc"/>
<rect x="278" y="865" width="5" height="1" fill="#ace5dc"/>
<rect x="284" y="865" width="5" height="5" fill="#ff5252"/>
<rect x="290" y="864" width="5" height="2" fill="#22ab94"/>
<rect x="296" y="865" width="5" height="1" fill="#ace5dc"/>
<rect x="302" y="865" width="5" height="9" fill="#ff5252"/>
<rect x="308" y="865" width="5" height="12" fill="#ff5252"/>
<rect x="314" y="865" width="5" height="19" fill="#ff5252"/>
<rect x="320" y="865" width="5" height="21" fill="#ff5252"/>
<rect x="326" y="865" width="5" height="16" fill="#fccbcd"/>
<rect x="332" y="865" width="5" height="6" fill="#fccbcd"/>
<rect x="338" y="865" width="5" height="1" fill="#22ab94"/>
<rect x="344" y="865" width="5" height="2" fill="#ff5252"/>
<rect x="350" y="865" width="5" height="10" fill="#ff5252"/>
<rect x="356" y="865" width="5" height="24" fill="#ff5252"/>
<rect x="362" y="865" width="5" height="33" fill="#ff5252"/>
<rect x="368" y="865" width="5" height="32" fill="#fccbcd"/>
<rect x="374" y="865" width="5" height="30" fill="#fccbcd"/>
<rect x="380" y="865" width="5" height="23" fill="#fccbcd"/>
<rect x="386" y="865" width="5" height="15" fill="#fccbcd"/>
<rect x="392" y="865" width="5" height="10" fill="#fccbcd"/>
<rect x="398" y="865" width="5" height="5" fill="#fccbcd"/>
<rect x="404" y="863" width="5" height="3" fill="#22ab94"/>
<rect x="410" y="865" width="5" height="3" fill="#ff5252"/>
<rect x="416" y="865" width="5" height="3" fill="#ff5252"/>
<rect x="422" y="865" width="5" height="10" fill="#ff5252"/>
<rect x="428" y="865" width="5" height="17" fill="#ff5252"/>
<rect x="434" y="865" width="5" height="21" fill="#ff5252"/>
<rect x="440" y="865" width="5" height="14" fill="#fccbcd"/>
<rect x="446" y="865" width="5" height="8" fill="#fccbcd"/>
<rect x="452" y="865" width="5" height="3" fill="#fccbcd"/>
<rect x="458" y="860" width="5" height="6" fill="#22ab94"/>
<rect x="464" y="855" width="5" height="11" fill="#22ab94"/>
<rect x="470" y="854" width="5" height="12" fill="#22ab94"/>
<rect x="476" y="852" width="5" height="14" fill="#22ab94"/>
<rect x="482" y="854" width="5" height="12" fill="#ace5dc"/>
<rect x="488" y="852" width="5" height="14" fill="#22ab94"/>
<rect x="494" y="847" width="5" height="19" fill="#22ab94"/>
<rect x="500" y="841" width="5" height="25" fill="#22ab94"/>
<rect x="506" y="833" width="5" height="33" fill="#22ab94"/>
<rect x="512" y="831" width="5" height="35" fill="#22ab94"/>
<rect x="518" y="827" width="5" height="39" fill="#22ab94"/>
<rect x="524" y="831" width="5" height="35" fill="#ace5dc"/>
<rect x="530" y="841" width="5" height="25" fill="#ace5dc"/>
<rect x="536" y="852" width="5" height="14" fill="#ace5dc"/>
<rect x="542" y="859" width="5" height="7" fill="#ace5dc"/>
<rect x="548" y="865" width="5" height="2" fill="#ff5252"/>
<rect x="554" y="865" width="5" height="12" fill="#ff5252"/>
<rect x="560" y="865" width="5" height="18" fill="#ff5252"/>
<rect x="566" y="865" width="5" height="13" fill="#fccbcd"/>
<rect x="572" y="865" width="5" height="9" fill="#fccbcd"/>
<rect x="578" y="865" width="5" height="9" fill="#fccbcd"/>
<rect x="584" y="865" width="5" height="9" fill="#fccbcd"/>
<rect x="590" y="865" width="5" height="11" fill="#ff5252"/>
<rect x="596" y="865" width="5" height="11" fill="#ff5252"/>
<rect x="602" y="865" width="5" height="15" fill="#ff5252"/>
<rect x="608" y="865" width="5" height="28" fill="#ff5252"/>
<rect x="614" y="865" width="5" height="33" fill="#ff5252"/>
<rect x="620" y="865" width="5" height="31" fill="#fccbcd"/>
<rect x="626" y="865" width="5" height="32" fill="#ff5252"/>
<rect x="632" y="865" width="5" height="31" fill="#fccbcd"/>
<rect x="638" y="865" width="5" height="28" fill="#fccbcd"/>
<rect x="644" y="865" width="5" height="25" fill="#fccbcd"/>
<rect x="650" y="865" width="5" height="19" fill="#fccbcd"/>
<rect x="656" y="865" width="5" height="14" fill="#fccbcd"/>
<rect x="662" y="865" width="5" height="1" fill="#22ab94"/>
<rect x="668" y="857" width="5" height="9" fill="#22ab94"/>
<rect x="674" y="855" width="5" height="11" fill="#22ab94"/>
<rect x="680" y="856" width="5" height="10" fill="#ace5dc"/>
<rect x="686" y="864" width="5" height="2" fill="#ace5dc"/>
<rect x="692" y="865" width="5" height="3" fill="#ff5252"/>
<rect x="698" y="865" width="5" height="7" fill="#ff5252"/>
<rect x="704" y="865" width="5" height="8" fill="#ff5252"/>
<rect x="710" y="865" width="5" height="3" fill="#fccbcd"/>
<rect x="716" y="863" width="5" height="3" fill="#22ab94"/>
<rect x="722" y="861" width="5" height="5" fill="#22ab94"/>
<rect x="728" y="860" width="5" height="6" fill="#22ab94"/>
<rect x="734" y="862" width="5" height="4" fill="#ace5dc"/>
<rect x="740" y="865" width="5" height="3" fill="#ff5252"/>
<rect x="746" y="865" width="5" height="11" fill="#ff5252"/>
<rect x="752" y="865" width="5" height="14" fill="#ff5252"/>
<rect x="758" y="865" width="5" height="13" fill="#fccbcd"/>
<rect x="764" y="865" width="5" height="5" fill="#fccbcd"/>
<rect x="770" y="861" width="5" height="5" fill="#22ab94"/>
<rect x="776" y="855" width="5" height="11" fill="#22ab94"/>
<rect x="782" y="850" width="5" height="16" fill="#22ab94"/>
<rect x="788" y="842" width="5" height="24" fill="#22ab94"/>
<rect x="794" y="837" width="5" height="29" fill="#22ab94"/>
<rect x="800" y="832" width="5" height="34" fill="#22ab94"/>
<rect x="806" y="830" width="5" height="36" fill="#22ab94"/>
<rect x="812" y="826" width="5" height="40" fill="#22ab94"/>
<rect x="818" y="828" width="5" height="38" fill="#ace5dc"/>
<rect x="824" y="832" width="5" height="34" fill="#ace5dc"/>
<rect x="830" y="840" width="5" height="26" fill="#ace5dc"/>
<rect x="836" y="850" width="5" height="16" fill="#ace5dc"/>
<rect x="842" y="856" width="5" height="10" fill="#ace5dc"/>
<rect x="848" y="862" width="5" height="4" fill="#ace5dc"/>
<rect x="854" y="854" width="5" height="12" fill="#22ab94"/>
<rect x="860" y="850" width="5" height="16" fill="#22ab94"/>
<rect x="866" y="848" width="5" height="18" fill="#22ab94"/>
<rect x="872" y="850" width="5" height="16" fill="#ace5dc"/>
<rect x="878" y="856" width="5" height="10" fill="#ace5dc"/>
<rect x="884" y="858" width="5" height="8" fill="#ace5dc"/>
<rect x="890" y="854" width="5" height="12" fill="#22ab94"/>
<rect x="896" y="856" width="5" height="10" fill="#ace5dc"/>
<rect x="902" y="860" width="5" height="6" fill="#ace5dc"/>
<rect x="908" y="865" width="5" height="2" fill="#ff5252"/>
<rect x="914" y="865" width="5" height="7" fill="#ff5252"/>
<rect x="920" y="865" width="5" height="10" fill="#ff5252"/>
<rect x="926" y="865" width="5" height="10" fill="#ff5252"/>
<rect x="932" y="865" width="5" height="13" fill="#ff5252"/>
<rect x="938" y="865" width="5" height="7" fill="#fccbcd"/>
<rect x="944" y="865" width="5" height="1" fill="#22ab94"/>
<rect x="950" y="852" width="5" height="14" fill="#22ab94"/>
<rect x="956" y="838" width="5" height="28" fill="#22ab94"/>
<rect x="962" y="816" width="5" height="50" fill="#22ab94"/>
<rect x="968" y="802" width="5" height="64" fill="#22ab94"/>
<rect x="974" y="797" width="5" height="69" fill="#22ab94"/>
<rect x="980" y="809" width="5" height="57" fill="#ace5dc"/>
<rect x="986" y="814" width="5" height="52" fill="#ace5dc"/>
<rect x="992" y="824" width="5" height="42" fill="#ace5dc"/>
<rect x="998" y="842" width="5" height="24" fill="#ace5dc"/>
<rect x="1004" y="846" width="5" height="20" fill="#ace5dc"/>
<rect x="1010" y="843" width="5" height="23" fill="#22ab94"/>
<rect x="1016" y="837" width="5" height="29" fill="#22ab94"/>
<rect x="1022" y="841" width="5" height="25" fill="#ace5dc"/>
<rect x="1028" y="850" width="5" height="16" fill="#ace5dc"/>
<rect x="1034" y="855" width="5" height="11" fill="#ace5dc"/>
<rect x="1040" y="865" width="5" height="2" fill="#ff5252"/>
<rect x="1046" y="865" width="5" height="10" fill="#ff5252"/>
<rect x="1052" y="865" width="5" height="12" fill="#ff5252"/>
<rect x="1058" y="865" width="5" height="18" fill="#ff5252"/>
<rect x="1064" y="865" width="5" height="14" fill="#fccbcd"/>
<rect x="1070" y="865" width="5" height="15" fill="#ff5252"/>
<rect x="1076" y="865" width="5" height="16" fill="#ff5252"/>
</g>
<g fill="none" stroke-linejoin="round" stroke-linecap="round">
<polyline points="-2.0,880.0 4.0,857.3 10.0,843.1 16.0,833.5 22.0,827.4 28.0,815.4 34.0,808.5 40.0,805.3 46.0,801.0 52.0,801.2 58.0,792.3 64.0,778.4 70.0,779.4 76.0,785.0 82.0,788.8 88.0,783.1 94.0,786.2 100.0,793.3 106.0,800.3 112.0,802.8 118.0,803.6 124.0,809.1 130.0,800.7 136.0,803.0 142.0,808.1 148.0,810.2 154.0,813.9 160.0,812.6 166.0,807.5 172.0,802.4 178.0,801.2 184.0,796.0 190.0,796.2 196.0,792.0 202.0,796.9 208.0,803.3 214.0,803.7 220.0,808.9 226.0,819.3 232.0,821.4 238.0,819.4 244.0,813.3 250.0,811.5 256.0,802.5 262.0,796.1 268.0,793.6 274.0,796.5 280.0,802.2 286.0,806.7 292.0,802.3 298.0,802.2 304.0,812.1 310.0,818.3 316.0,829.9 322.0,836.9 328.0,834.9 334.0,826.0 340.0,821.2 346.0,822.0 352.0,831.9 358.0,852.3 364.0,869.5 370.0,876.4 376.0,880.9 382.0,879.5 388.0,875.0 394.0,872.0 400.0,867.8 406.0,861.9 412.0,865.7 418.0,866.9 424.0,875.8 430.0,886.0 436.0,895.6 442.0,891.9 448.0,887.9 454.0,882.6 460.0,874.3 466.0,866.9 472.0,863.5 478.0,857.4 484.0,856.6 490.0,851.1 496.0,841.3 502.0,829.5 508.0,813.3 514.0,803.0 520.0,789.9 526.0,785.5 532.0,789.2 538.0,796.7 544.0,801.8 550.0,809.2 556.0,822.2 562.0,832.7 568.0,830.2 574.0,828.6 580.0,830.2 586.0,831.8 592.0,836.2 598.0,839.1 604.0,846.5 610.0,865.5 616.0,878.5 622.0,884.5 628.0,893.4 634.0,899.1 640.0,903.4 646.0,906.6 652.0,904.8 658.0,903.0 664.0,889.3 670.0,880.0 676.0,875.5 682.0,873.7 688.0,881.2 694.0,884.3 700.0,890.4 706.0,892.9 712.0,888.9 718.0,883.3 724.0,880.9 730.0,877.8 736.0,879.3 742.0,885.0 748.0,895.6 754.0,901.3 760.0,902.8 766.0,895.8 772.0,887.4 778.0,878.9 784.0,869.4 790.0,855.6 796.0,843.9 802.0,830.1 808.0,819.3 814.0,805.9 820.0,797.8 826.0,794.5 832.0,795.7 838.0,801.8 844.0,806.0 850.0,810.9 856.0,800.3 862.0,792.1 868.0,785.8 874.0,784.4 880.0,787.3 886.0,787.6 892.0,781.3 898.0,780.3 904.0,783.8 910.0,789.6 916.0,795.8 922.0,801.3 928.0,803.6 934.0,809.1 940.0,804.8 946.0,798.4 952.0,781.7 958.0,760.7 964.0,727.1 970.0,697.6 976.0,674.9 982.0,673.2 988.0,665.0 994.0,664.4 1000.0,677.2 1006.0,676.3 1012.0,667.3 1018.0,654.5 1024.0,652.7 1030.0,657.0 1036.0,659.9 1042.0,671.5 1048.0,681.0 1054.0,686.5 1060.0,696.6 1066.0,695.7 1072.0,699.6 1078.0,704.1" stroke="#2196f3" stroke-width="1"/>
<polyline points="-2.0,905.8 4.0,896.1 10.0,885.5 16.0,875.1 22.0,865.6 28.0,855.5 34.0,846.1 40.0,838.0 46.0,830.6 52.0,824.7 58.0,818.2 64.0,810.3 70.0,804.1 76.0,800.3 82.0,798.0 88.0,795.0 94.0,793.2 100.0,793.2 106.0,794.6 112.0,796.3 118.0,797.7 124.0,800.0 130.0,800.2 136.0,800.7 142.0,802.2 148.0,803.8 154.0,805.8 160.0,807.2 166.0,807.2 172.0,806.3 178.0,805.3 184.0,803.4 190.0,801.9 196.0,800.0 202.0,799.3 208.0,800.1 214.0,800.8 220.0,802.5 226.0,805.8 232.0,808.9 238.0,811.0 244.0,811.5 250.0,811.5 256.0,809.7 262.0,807.0 268.0,804.3 274.0,802.7 280.0,802.6 286.0,803.4 292.0,803.2 298.0,803.0 304.0,804.8 310.0,807.5 316.0,812.0 322.0,817.0 328.0,820.6 334.0,821.7 340.0,821.6 346.0,821.6 352.0,823.7 358.0,829.4 364.0,837.4 370.0,845.2 376.0,852.4 382.0,857.8 388.0,861.2 394.0,863.4 400.0,864.3 406.0,863.8 412.0,864.2 418.0,864.7 424.0,866.9 430.0,870.8 436.0,875.7 442.0,879.0 448.0,880.7 454.0,881.1 460.0,879.8 466.0,877.2 472.0,874.4 478.0,871.0 484.0,868.2 490.0,864.7 496.0,860.1 502.0,853.9 508.0,845.8 514.0,837.3 520.0,827.8 526.0,819.3 532.0,813.3 538.0,810.0 544.0,808.3 550.0,808.5 556.0,811.3 562.0,815.5 568.0,818.5 574.0,820.5 580.0,822.4 586.0,824.3 592.0,826.7 598.0,829.2 604.0,832.6 610.0,839.2 616.0,847.1 622.0,854.6 628.0,862.3 634.0,869.7 640.0,876.4 646.0,882.5 652.0,886.9 658.0,890.1 664.0,890.0 670.0,888.0 676.0,885.5 682.0,883.1 688.0,882.7 694.0,883.0 700.0,884.5 706.0,886.2 712.0,886.7 718.0,886.1 724.0,885.0 730.0,883.6 736.0,882.7 742.0,883.2 748.0,885.6 754.0,888.8 760.0,891.6 766.0,892.4 772.0,891.4 778.0,888.9 784.0,885.0 790.0,879.1 796.0,872.1 802.0,863.7 808.0,854.8 814.0,845.0 820.0,835.6 826.0,827.4 832.0,821.0 838.0,817.2 844.0,815.0 850.0,814.2 856.0,811.4 862.0,807.5 868.0,803.2 874.0,799.4 880.0,797.0 886.0,795.1 892.0,792.4 898.0,789.9 904.0,788.7 910.0,788.9 916.0,790.3 922.0,792.5 928.0,794.7 934.0,797.6 940.0,799.0 946.0,798.9 952.0,795.4 958.0,788.5 964.0,776.2 970.0,760.5 976.0,743.4 982.0,729.3 988.0,716.5 994.0,706.1 1000.0,700.3 1006.0,695.5 1012.0,689.9 1018.0,682.8 1024.0,676.8 1030.0,672.8 1036.0,670.2 1042.0,670.5 1048.0,672.6 1054.0,675.4 1060.0,679.6 1066.0,682.8 1072.0,686.2 1078.0,689.8" stroke="#ff4081" stroke-width="2.2"/>
</g>
<line x1="0" y1="115.5" x2="1214" y2="115.5" stroke="#f7f7f7" stroke-width="1" stroke-dasharray="1 2" shape-rendering="crispEdges"/>
</svg>
<div class="t" style="left:10px;top:8px;font-size:12px;line-height:16px;font-weight:bold;color:#000;letter-spacing:0.05px">AUDUSD 1D - 1uptick.com</div>
<span class="p" style="left:9.4px;top:33px;color:#131722;transform:scaleX(0.824)">BB</span>
<span class="p" style="left:28.1px;top:33px;color:#5d606b;transform:scaleX(0.976)">20 2</span>
<span class="p" style="left:67.0px;top:33px;color:#2196f3;transform:scaleX(0.996)">0.70514</span>
<span class="p" style="left:120.0px;top:33px;color:#2196f3;transform:scaleX(0.989)">0.71540</span>
<span class="p" style="left:172.9px;top:33px;color:#2196f3;transform:scaleX(0.989)">0.69488</span>
<span class="p" style="left:9.0px;top:57px;color:#131722;transform:scaleX(0.815)">MA</span>
<span class="p" style="left:30.6px;top:57px;color:#5d606b;transform:scaleX(0.928)">10 close 0 SMA 9</span>
<span class="p" style="left:139.1px;top:57px;color:#f7b12e;transform:scaleX(0.989)">0.70814</span>
<span class="p" style="left:9.0px;top:81px;color:#131722;transform:scaleX(0.815)">MA</span>
<span class="p" style="left:30.6px;top:81px;color:#5d606b;transform:scaleX(0.928)">50 close 0 SMA 9</span>
<span class="p" style="left:139.1px;top:81px;color:#e57e0d;transform:scaleX(0.989)">0.68300</span>
<span class="p" style="left:9.2px;top:631px;color:#131722;transform:scaleX(0.842)">MACD</span>
<span class="p" style="left:46.8px;top:631px;color:#5d606b;transform:scaleX(0.968)">12 26 close 9</span>
<span class="p" style="left:136.8px;top:631px;color:#ff5252;transform:scaleX(0.955)">−0.00072</span>
<span class="p" style="left:196.2px;top:631px;color:#2196f3;transform:scaleX(0.973)">0.00809</span>
<span class="p" style="left:249.2px;top:631px;color:#ff4081;transform:scaleX(0.973)">0.00881</span>
<div style="position:absolute;left:9px;top:102px;width:29px;height:21px;box-sizing:border-box;border:1px solid #d1d4dc;border-radius:3px;background:rgba(255,255,255,0.85)"></div>
<svg width="14" height="10" style="left:16.1px;top:107.5px" viewBox="0 0 14 10"><path d="M3 6.6 L7 2.9 L11 6.6" fill="none" stroke="#131722" stroke-width="1.3"/></svg>
<div style="position:absolute;left:0;top:31px;width:1280px;height:590px;overflow:hidden"><div style="position:absolute;left:0;top:-31px;width:1280px;height:960px">
<div class="ax" style="top:26px">0.73000</div>
<div class="ax" style="top:69px">0.72000</div>
<div class="ax" style="top:113px">0.71000</div>
<div class="ax" style="top:156px">0.70000</div>
<div class="ax" style="top:199px">0.69000</div>
<div class="ax" style="top:242px">0.68000</div>
<div class="ax" style="top:286px">0.67000</div>
<div class="ax" style="top:329px">0.66000</div>
<div class="ax" style="top:372px">0.65000</div>
<div class="ax" style="top:415px">0.64000</div>
<div class="ax" style="top:459px">0.63000</div>
<div class="ax" style="top:502px">0.62000</div>
<div class="ax" style="top:545px">0.61000</div>
<div class="ax" style="top:588px">0.60000</div>
</div></div>
<div class="ax" style="top:620px">0.01200</div>
<div class="ax" style="top:660px">0.01000</div>
<div class="ax" style="top:699px">0.00800</div>
<div class="ax" style="top:739px">0.00600</div>
<div class="ax" style="top:779px">0.00400</div>
<div class="ax" style="top:819px">0.00200</div>
<div class="ax" style="top:859px">0.00000</div>
<div class="ax" style="top:899px">−0.00200</div>
<div class="bd" style="top:88px;background:#2196f3;color:#fff;">0.71540</div>
<div class="bd" style="top:107px;background:#f7f7f7;color:#000;">0.71097</div>
<div class="bd" style="top:124px;background:#f8b42d;color:#000;">0.70814</div>
<div class="bd" style="top:141px;background:#2f9fe8;color:#fff;">0.70514</div>
<div class="bd" style="top:177px;background:#2196f3;color:#fff;">0.69488</div>
<div class="bd" style="top:228px;background:#e57e0d;color:#fff;">0.68300</div>
<div class="bd" style="top:679px;background:#ff4081;color:#fff;">0.00881</div>
<div class="bd" style="top:696px;background:#2196f3;color:#fff;">0.00809</div>
<div class="bd" style="top:872px;background:#ff5252;color:#fff;width:62px;">−0.00072</div>
<div class="tm" style="left:29px;transform:scaleX(0.94);">May</div>
<div class="tm" style="left:131px;transform:scaleX(0.94);">Jun</div>
<div class="tm" style="left:233px;transform:scaleX(0.94);">Jul</div>
<div class="tm" style="left:347px;transform:scaleX(0.94);">Aug</div>
<div class="tm" style="left:443px;transform:scaleX(0.94);">Sep</div>
<div class="tm" style="left:551px;transform:scaleX(0.94);">Oct</div>
<div class="tm" style="left:659px;transform:scaleX(0.94);">Nov</div>
<div class="tm" style="left:755px;transform:scaleX(0.94);">Dec</div>
<div class="tm" style="left:857px;font-weight:bold;transform:scaleX(0.98);">2026</div>
<div class="tm" style="left:959px;transform:scaleX(0.94);">Feb</div>
<div class="tm" style="left:1061px;transform:scaleX(0.94);">Mar</div>
<div class="tm" style="left:1145px;transform:scaleX(0.94);">20</div>
<svg width="24" height="24" style="left:1235.5px;top:934.45px" viewBox="-12 -12 24 24"><g fill="none" stroke="#131722" stroke-width="1.15"><circle cx="0" cy="0" r="4.75"/>
<line x1="5.30" y1="0.00" x2="7.50" y2="0.00"/>
<line x1="4.45" y1="4.45" x2="5.16" y2="5.16"/>
<line x1="0.00" y1="5.30" x2="0.00" y2="7.50"/>
<line x1="-4.45" y1="4.45" x2="-5.16" y2="5.16"/>
<line x1="-5.30" y1="0.00" x2="-7.50" y2="0.00"/>
<line x1="-4.45" y1="-4.45" x2="-5.16" y2="-5.16"/>
<line x1="-0.00" y1="-5.30" x2="-0.00" y2="-7.50"/>
<line x1="4.45" y1="-4.45" x2="5.16" y2="-5.16"/>
</g></svg>
<svg width="48" height="48" style="left:0;top:885px" viewBox="0 0 48 48"><circle cx="23.5" cy="24.85" r="16.25" fill="#fff" stroke="#e4e4e6" stroke-width="1"/><path d="M13 20.15H21.85V30.75H18V23.75H13Z M29.5 20.15H34.25L30 30.75H25Z" fill="#131722"/><circle cx="25" cy="22" r="1.9" fill="#131722"/></svg>
</body></html>
